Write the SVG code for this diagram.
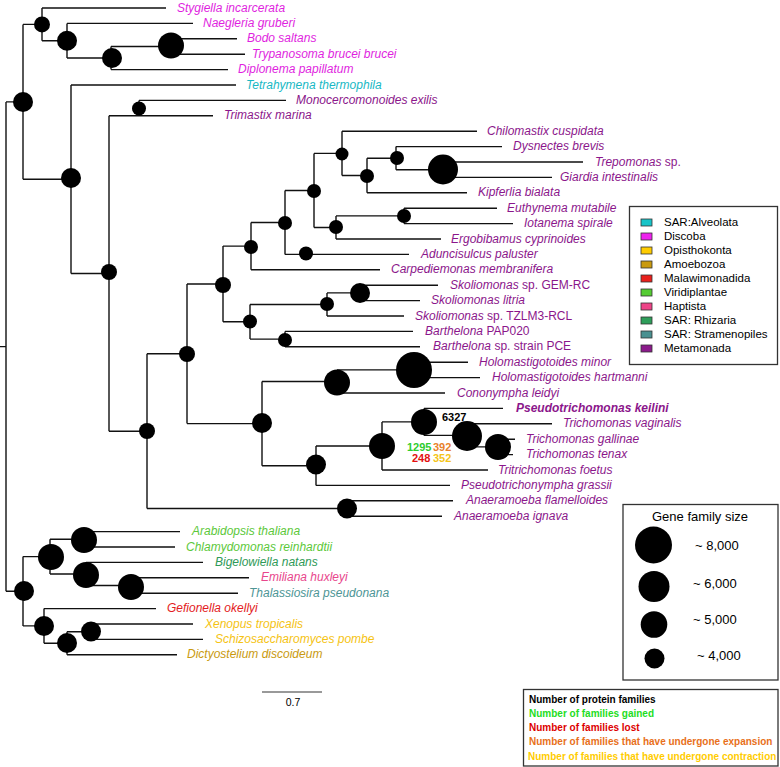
<svg xmlns="http://www.w3.org/2000/svg" width="780" height="767" viewBox="0 0 780 767">
<style>
.e{fill:none;stroke:#111;stroke-width:1.4}
.n{fill:#000}
.t{font-family:"Liberation Sans",Arial,sans-serif;font-size:12px;font-style:italic}
.u{font-style:normal}
.dis{fill:#e01fe0}.alv{fill:#18b8c4}.met{fill:#8b168b}.vir{fill:#5cc83a}.rhi{fill:#2f9a58}.hap{fill:#e8468c}.str{fill:#4d9595}.mal{fill:#e31b23}.opi{fill:#f5c313}.amo{fill:#c99a10}
.lg{font-family:"Liberation Sans",Arial,sans-serif;font-size:11.5px;fill:#000}
.sw{stroke:#333;stroke-width:0.8}
.box{fill:none;stroke:#333;stroke-width:1.3}
.num{font-family:"Liberation Sans",Arial,sans-serif;font-size:11px;font-weight:bold}
.gs{font-family:"Liberation Sans",Arial,sans-serif;font-size:13px;fill:#000}
.l3{font-family:"Liberation Sans",Arial,sans-serif;font-size:10px;font-weight:bold}
</style>
<rect width="780" height="767" fill="#fff"/>
<g id="connectors">
<path class="e" d="M0 346.6H6M6 101.9V591.2M6 101.9H23M6 591.2H23"/>
<path class="e" d="M23 24.4V179.3M23 24.4H42M23 179.3H71"/>
<path class="e" d="M42 8V40.7M42 8H166M42 40.7H67"/>
<path class="e" d="M67 23.4V58M67 23.4H193M67 58H111"/>
<path class="e" d="M111 46.5V69.6M111 46.5H171M111 69.6H228"/>
<path class="e" d="M171 38.8V54.2M171 38.8H237M171 54.2H245"/>
<path class="e" d="M71 85V273.5M71 85H236M71 273.5H109"/>
<path class="e" d="M109 115.8V431.2M109 115.8H213M109 431.2H147"/>
<path class="e" d="M139 100.4V115.8M139 100.4H286"/>
<path class="e" d="M147 353.8V508.5M147 353.8H187M147 508.5H347"/>
<path class="e" d="M187 284V423.6M187 284H223M187 423.6H262"/>
<path class="e" d="M223 246.1V321.8M223 246.1H251M223 321.8H250"/>
<path class="e" d="M251 222.5V269.8M251 222.5H285M251 269.8H380"/>
<path class="e" d="M285 190.5V254.4M285 190.5H314M285 254.4H409"/>
<path class="e" d="M314 153.4V227.5M314 153.4H342M314 227.5H336"/>
<path class="e" d="M342 131.2V175.5M342 131.2H477M342 175.5H367"/>
<path class="e" d="M367 158.2V192.8M367 158.2H396M367 192.8H467"/>
<path class="e" d="M396 146.6V169.7M396 146.6H502M396 169.7H443"/>
<path class="e" d="M443 162V177.4M443 162H583M443 177.4H552"/>
<path class="e" d="M336 215.9V239M336 215.9H404M336 239H441"/>
<path class="e" d="M404 208.2V223.6M404 208.2H497M404 223.6H513"/>
<path class="e" d="M250 304.5V339.1M250 304.5H327M250 339.1H285"/>
<path class="e" d="M327 292.9V316M327 292.9H360M327 316H404"/>
<path class="e" d="M360 285.2V300.6M360 285.2H438M360 300.6H420"/>
<path class="e" d="M285 331.4V346.8M285 331.4H413M285 346.8H420"/>
<path class="e" d="M262 381.5V465.7M262 381.5H337M262 465.7H316"/>
<path class="e" d="M337 369.9V393M337 369.9H414M337 393H445"/>
<path class="e" d="M414 362.2V377.6M414 362.2H468M414 377.6H480"/>
<path class="e" d="M316 446V485.4M316 446H382M316 485.4H450"/>
<path class="e" d="M382 421.9V470M382 421.9H424M382 470H488"/>
<path class="e" d="M424 408.4V435.4M424 408.4H503M424 435.4H467"/>
<path class="e" d="M467 423.8V446.9M467 423.8H552M467 446.9H498"/>
<path class="e" d="M498 439.2V454.6M498 439.2H515M498 454.6H513"/>
<path class="e" d="M347 500.8V516.2M347 500.8H453M347 516.2H442"/>
<path class="e" d="M23 556.6V625.9M23 556.6H50M23 625.9H44"/>
<path class="e" d="M50 539.3V574M50 539.3H84M50 574H86"/>
<path class="e" d="M84 531.6V547M84 531.6H180M84 547H175"/>
<path class="e" d="M86 562.4V585.5M86 562.4H203M86 585.5H131"/>
<path class="e" d="M131 577.8V593.2M131 577.8H249M131 593.2H238"/>
<path class="e" d="M44 608.6V643.2M44 608.6H156M44 643.2H67"/>
<path class="e" d="M67 631.7V654.8M67 631.7H90M67 654.8H177"/>
<path class="e" d="M90 624V639.4M90 624H193M90 639.4H203"/>
</g>
<g id="nodes">
<g id="nA"><circle class="n" cx="23" cy="102" r="10"/></g>
<g id="nB"><circle class="n" cx="42" cy="24.4" r="8"/></g>
<g id="nD"><circle class="n" cx="67" cy="40.7" r="10"/></g>
<g id="nE"><circle class="n" cx="112" cy="58" r="10"/></g>
<g id="nF"><circle class="n" cx="171" cy="45.5" r="13"/></g>
<g id="nC"><circle class="n" cx="71" cy="178" r="10"/></g>
<g id="nH"><circle class="n" cx="139" cy="108.5" r="7"/></g>
<g id="nG"><circle class="n" cx="109" cy="272" r="8"/></g>
<g id="nI"><circle class="n" cx="147" cy="431" r="8"/></g>
<g id="nJ"><circle class="n" cx="187" cy="354" r="8"/></g>
<g id="nK"><circle class="n" cx="223" cy="285" r="8"/></g>
<g id="nM"><circle class="n" cx="251" cy="247" r="7"/></g>
<g id="nO"><circle class="n" cx="285" cy="223" r="7"/></g>
<g id="nP"><circle class="n" cx="314" cy="191" r="7"/></g>
<g id="nQ"><circle class="n" cx="306" cy="253.5" r="7"/></g>
<g id="nR"><circle class="n" cx="342" cy="154" r="6.5"/></g>
<g id="nT"><circle class="n" cx="367" cy="176" r="7"/></g>
<g id="nU"><circle class="n" cx="397" cy="158" r="7"/></g>
<g id="nV"><circle class="n" cx="443" cy="169.5" r="15"/></g>
<g id="nS"><circle class="n" cx="336" cy="227" r="7"/></g>
<g id="nW"><circle class="n" cx="404" cy="216" r="7"/></g>
<g id="nN"><circle class="n" cx="250" cy="321.5" r="7"/></g>
<g id="nX"><circle class="n" cx="327" cy="304" r="7"/></g>
<g id="nZ1"><circle class="n" cx="360" cy="293" r="10"/></g>
<g id="nY"><circle class="n" cx="285" cy="340" r="7"/></g>
<g id="nL"><circle class="n" cx="262" cy="423" r="10"/></g>
<g id="nAA"><circle class="n" cx="337" cy="382.5" r="13"/></g>
<g id="nAC"><circle class="n" cx="414" cy="370" r="18"/></g>
<g id="nAB"><circle class="n" cx="316" cy="464.5" r="10"/></g>
<g id="nAD"><circle class="n" cx="382" cy="446" r="13"/></g>
<g id="nAE"><circle class="n" cx="424" cy="422" r="13"/></g>
<g id="nAF"><circle class="n" cx="467" cy="436" r="15"/></g>
<g id="nAG"><circle class="n" cx="498" cy="447" r="13"/></g>
<g id="nAH"><circle class="n" cx="347" cy="508.5" r="10"/></g>
<g id="nZ"><circle class="n" cx="24" cy="591" r="10"/></g>
<g id="nBA"><circle class="n" cx="51" cy="557" r="13"/></g>
<g id="nBC"><circle class="n" cx="84" cy="540" r="13"/></g>
<g id="nBD"><circle class="n" cx="86" cy="575" r="13"/></g>
<g id="nBE"><circle class="n" cx="131" cy="587" r="13"/></g>
<g id="nBB"><circle class="n" cx="44" cy="626" r="10"/></g>
<g id="nBF"><circle class="n" cx="67" cy="643" r="10"/></g>
<g id="nBG"><circle class="n" cx="91" cy="631.5" r="10"/></g>
</g>
<g id="leaves">
<g id="l00"><text class="t dis" x="177" y="11.5">Stygiella incarcerata</text></g>
<g id="l01"><text class="t dis" x="203" y="26.9">Naegleria gruberi</text></g>
<g id="l02"><text class="t dis" x="247" y="42.3">Bodo saltans</text></g>
<g id="l03"><text class="t dis" x="252" y="57.7">Trypanosoma brucei brucei</text></g>
<g id="l04"><text class="t dis" x="238" y="73.1">Diplonema papillatum</text></g>
<g id="l05"><text class="t alv" x="246" y="88.5">Tetrahymena thermophila</text></g>
<g id="l06"><text class="t met" x="296" y="103.9">Monocercomonoides exilis</text></g>
<g id="l07"><text class="t met" x="224" y="119.3">Trimastix marina</text></g>
<g id="l08"><text class="t met" x="487" y="134.7">Chilomastix cuspidata</text></g>
<g id="l09"><text class="t met" x="513" y="150.1">Dysnectes brevis</text></g>
<g id="l10"><text class="t met" x="595" y="165.5">Trepomonas <tspan class="u">sp.</tspan></text></g>
<g id="l11"><text class="t met" x="560" y="180.9">Giardia intestinalis</text></g>
<g id="l12"><text class="t met" x="478" y="196.3">Kipferlia bialata</text></g>
<g id="l13"><text class="t met" x="507" y="211.7">Euthynema mutabile</text></g>
<g id="l14"><text class="t met" x="524" y="227.1">Iotanema spirale</text></g>
<g id="l15"><text class="t met" x="451" y="242.5">Ergobibamus cyprinoides</text></g>
<g id="l16"><text class="t met" x="421" y="257.9">Aduncisulcus paluster</text></g>
<g id="l17"><text class="t met" x="391" y="273.3">Carpediemonas membranifera</text></g>
<g id="l18"><text class="t met" x="450" y="288.7">Skoliomonas <tspan class="u">sp. GEM-RC</tspan></text></g>
<g id="l19"><text class="t met" x="431" y="304.1">Skoliomonas litria</text></g>
<g id="l20"><text class="t met" x="415" y="319.5">Skoliomonas <tspan class="u">sp. TZLM3-RCL</tspan></text></g>
<g id="l21"><text class="t met" x="425" y="334.9">Barthelona <tspan class="u">PAP020</tspan></text></g>
<g id="l22"><text class="t met" x="433" y="350.3">Barthelona <tspan class="u">sp. strain PCE</tspan></text></g>
<g id="l23"><text class="t met" x="479" y="365.7">Holomastigotoides minor</text></g>
<g id="l24"><text class="t met" x="492" y="381.1">Holomastigotoides hartmanni</text></g>
<g id="l25"><text class="t met" x="457" y="396.5">Cononympha leidyi</text></g>
<g id="l26"><text class="t met" x="516" y="411.9" font-weight="bold">Pseudotrichomonas keilini</text></g>
<g id="l27"><text class="t met" x="563" y="427.3">Trichomonas vaginalis</text></g>
<g id="l28"><text class="t met" x="526" y="442.7">Trichomonas gallinae</text></g>
<g id="l29"><text class="t met" x="526" y="458.1">Trichomonas tenax</text></g>
<g id="l30"><text class="t met" x="498" y="473.5">Tritrichomonas foetus</text></g>
<g id="l31"><text class="t met" x="461" y="488.9">Pseudotrichonympha grassii</text></g>
<g id="l32"><text class="t met" x="466" y="504.3">Anaeramoeba flamelloides</text></g>
<g id="l33"><text class="t met" x="454" y="519.7">Anaeramoeba ignava</text></g>
<g id="l34"><text class="t vir" x="192" y="535.1">Arabidopsis thaliana</text></g>
<g id="l35"><text class="t vir" x="186" y="550.5">Chlamydomonas reinhardtii</text></g>
<g id="l36"><text class="t rhi" x="215" y="565.9">Bigelowiella natans</text></g>
<g id="l37"><text class="t hap" x="261" y="581.3">Emiliana huxleyi</text></g>
<g id="l38"><text class="t str" x="249" y="596.7">Thalassiosira pseudonana</text></g>
<g id="l39"><text class="t mal" x="167" y="612.1">Gefionella okellyi</text></g>
<g id="l40"><text class="t opi" x="205" y="627.5">Xenopus tropicalis</text></g>
<g id="l41"><text class="t opi" x="215" y="642.9">Schizosaccharomyces pombe</text></g>
<g id="l42"><text class="t amo" x="187" y="658.3">Dictyostelium discoideum</text></g>
</g>
<g id="counts">
<text class="num" x="442" y="421" fill="#000">6327</text>
<text class="num" x="407" y="450.5" fill="#2ecc2e">1295</text>
<text class="num" x="433" y="450.5" fill="#e8822a">392</text>
<text class="num" x="412" y="461.5" fill="#e31010">248</text>
<text class="num" x="433" y="461.5" fill="#f5c518">352</text>
</g>
<g id="legend-groups">
<rect class="box" x="629.5" y="206.5" width="148" height="158"/>
<rect class="sw" x="641" y="219" width="11" height="7" fill="#18c4c8"/><text class="lg" x="664" y="226.3">SAR:Alveolata</text>
<rect class="sw" x="641" y="233" width="11" height="7" fill="#ee22ee"/><text class="lg" x="664" y="240.3">Discoba</text>
<rect class="sw" x="641" y="247" width="11" height="7" fill="#ffcc00"/><text class="lg" x="664" y="254.3">Opisthokonta</text>
<rect class="sw" x="641" y="261" width="11" height="7" fill="#c99a10"/><text class="lg" x="664" y="268.3">Amoebozoa</text>
<rect class="sw" x="641" y="275" width="11" height="7" fill="#e8201c"/><text class="lg" x="664" y="282.3">Malawimonadida</text>
<rect class="sw" x="641" y="289" width="11" height="7" fill="#55cc33"/><text class="lg" x="664" y="296.3">Viridiplantae</text>
<rect class="sw" x="641" y="303" width="11" height="7" fill="#ee4488"/><text class="lg" x="664" y="310.3">Haptista</text>
<rect class="sw" x="641" y="317" width="11" height="7" fill="#2e9e5a"/><text class="lg" x="664" y="324.3">SAR: Rhizaria</text>
<rect class="sw" x="641" y="331" width="11" height="7" fill="#4a9090"/><text class="lg" x="664" y="338.3">SAR: Stramenopiles</text>
<rect class="sw" x="641" y="345" width="11" height="7" fill="#8b1a8b"/><text class="lg" x="664" y="352.3">Metamonada</text>
</g>
<g id="legend-size">
<rect class="box" x="623" y="504.5" width="155" height="175.5"/>
<text class="gs" x="652" y="520.5" font-size="14">Gene family size</text>
<circle class="n" cx="653.5" cy="545" r="18.5"/>
<circle class="n" cx="654" cy="586.5" r="15.5"/>
<circle class="n" cx="654" cy="624.5" r="13.3"/>
<circle class="n" cx="654.5" cy="658.5" r="10"/>
<text class="gs" x="695" y="549.5">~ 8,000</text>
<text class="gs" x="693" y="588">~ 6,000</text>
<text class="gs" x="693" y="623.5">~ 5,000</text>
<text class="gs" x="697" y="659.5">~ 4,000</text>
</g>
<g id="scale">
<path d="M262 692H322" stroke="#777" stroke-width="1.3"/>
<text x="293" y="706" text-anchor="middle" font-family="Liberation Sans, Arial, sans-serif" font-size="10.5" fill="#000">0.7</text>
</g>
<g id="legend-counts">
<rect class="box" x="523.5" y="689.5" width="254.5" height="76.5"/>
<text class="l3" x="529" y="702.5" fill="#000">Number of protein families</text>
<text class="l3" x="529" y="716.5" fill="#22dd22">Number of families gained</text>
<text class="l3" x="529" y="731" fill="#dd0000">Number of families lost</text>
<text class="l3" x="529" y="745" fill="#e8701a">Number of families that have undergone expansion</text>
<text class="l3" x="528" y="759.5" fill="#ffcc00">Number of families that have undergone contraction</text>
</g>
</svg>
